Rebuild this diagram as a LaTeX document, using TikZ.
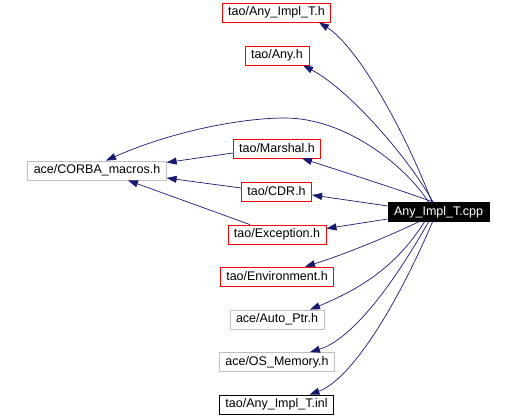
\documentclass[tikz,border=0pt]{standalone}
\usepackage{fontspec}
\setmainfont{Liberation Sans}
\usetikzlibrary{arrows.meta}
\definecolor{depblue}{RGB}{25,25,112}
\definecolor{boxgray}{RGB}{191,191,191}
\begin{document}
\begin{tikzpicture}[x=1pt, y=-1pt, font=\fontsize{12.5}{14}\selectfont,
    file/.style={draw=#1, line width=0.8pt, inner xsep=6pt, inner ysep=0pt, minimum height=19pt},
    file/.default=red,
    dep/.style={draw=depblue, line width=0.7pt, -{Triangle[length=10pt,width=7pt]}}]
    \useasboundingbox (0,0) rectangle (516,417);
    \node[file] (anyimplh) at (276.5,12.5) {tao/Any\_Impl\_T.h};
    \node[file] (anyh) at (277,55.5) {tao/Any.h};
    \node[file] (marshal) at (277,148.5) {tao/Marshal.h};
    \node[file=boxgray] (corba) at (97,170.5) {ace/CORBA\_macros.h};
    \node[file] (cdr) at (276.5,191.5) {tao/CDR.h};
    \node[file=black, fill=black, text=white] (cpp) at (438.5,212) {Any\_Impl\_T.cpp};
    \node[file] (exception) at (277,234.5) {tao/Exception.h};
    \node[file] (environment) at (277,276.5) {tao/Environment.h};
    \node[file=boxgray] (autoptr) at (277,319.5) {ace/Auto\_Ptr.h};
    \node[file=boxgray] (osmemory) at (277,362) {ace/OS\_Memory.h};
    \node[file=black] (inl) at (276.5,404.5) {tao/Any\_Impl\_T.inl};
    \draw[dep] ([xshift=-6.5pt]cpp.north) .. controls (400,120) and (355,45) .. ([xshift=42.5pt]anyimplh.south);
    \draw[dep] ([xshift=-5.5pt]cpp.north) .. controls (410,160) and (350,90) .. ([xshift=26pt]anyh.south);
    \draw[dep] ([xshift=-10pt]cpp.north) .. controls (405,165) and (345,118) .. (285,118)
        .. controls (240,118) and (170,132) .. ([xshift=9pt]corba.north);
    \draw[dep] ([xshift=-5pt]cpp.north) .. controls (400,190) and (350,174) .. ([xshift=25pt]marshal.south);
    \draw[dep] ([yshift=6pt]cpp.west) -- ([yshift=-3.5pt]cdr.east);
    \draw[dep] ([yshift=-7pt]cpp.west) -- ([yshift=6pt]exception.east);
    \draw[dep] ([xshift=-20pt]cpp.south) .. controls (385,238) and (340,256) .. ([xshift=28pt]environment.north);
    \draw[dep] ([xshift=-14pt]cpp.south) .. controls (400,260) and (370,285) .. ([xshift=33pt]autoptr.north);
    \draw[dep] ([xshift=-10pt]cpp.south) .. controls (390,290) and (350,340) .. ([xshift=33pt]osmemory.north);
    \draw[dep] ([xshift=-6pt]cpp.south) .. controls (395,310) and (350,380) .. ([xshift=33pt]inl.north);
    \draw[dep] ([yshift=-4.5pt]marshal.west) -- ([yshift=8pt]corba.east);
    \draw[dep] ([yshift=3.5pt]cdr.west) -- ([yshift=-7.5pt]corba.east);
    \draw[dep] ([xshift=-27pt]exception.north) -- ([xshift=31pt]corba.south);
\end{tikzpicture}
\end{document}
